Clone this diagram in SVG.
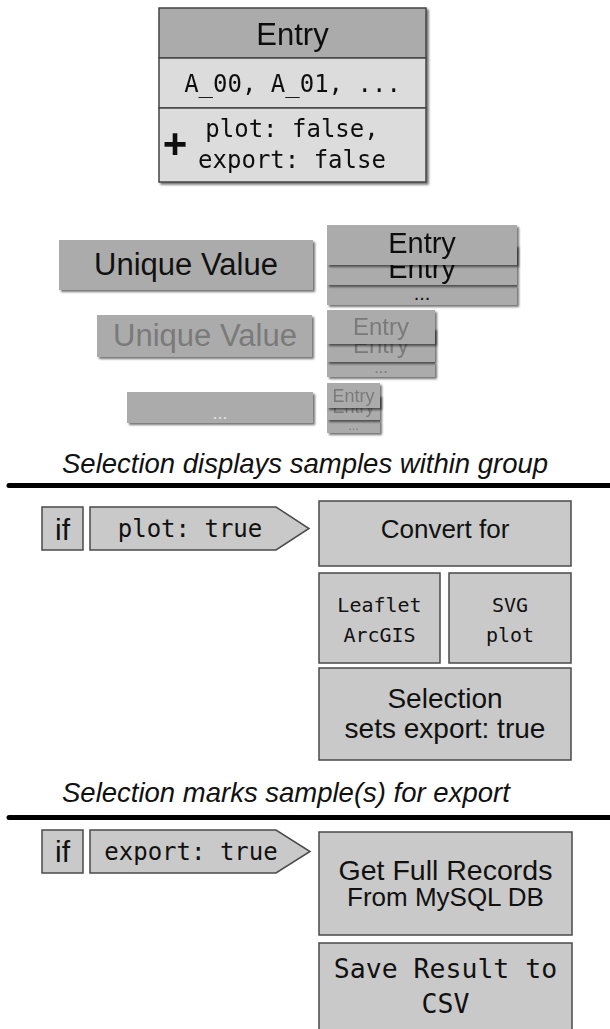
<svg xmlns="http://www.w3.org/2000/svg" width="610" height="1029" viewBox="0 0 610 1029">
<defs>
<filter id="sh" x="-10%" y="-10%" width="130%" height="140%">
<feDropShadow dx="2" dy="2" stdDeviation="0.8" flood-color="#000" flood-opacity="0.55"/>
</filter>
<style>
.sans{font-family:"Liberation Sans",Arial,sans-serif}
.mono{font-family:"DejaVu Sans Mono","Liberation Mono",monospace}
.card{fill:#ababab}
.box{fill:#c9c9c9;stroke:#4a4a4a;stroke-width:1.5}
.hdr{fill:#ababab;stroke:#444;stroke-width:1.5}
.row{fill:#dcdcdc;stroke:#444;stroke-width:1.5}
.dark{fill:#111}
.fade{fill:#7a7a7a}
.sep{stroke:#000;stroke-width:5;stroke-linecap:round}
</style>
</defs>
<rect width="610" height="1029" fill="#fff"/>

<g id="entry" filter="url(#sh)">
<rect class="hdr" x="159" y="8" width="267" height="50"/>
<rect class="row" x="159" y="58" width="267" height="50"/>
<rect class="row" x="159" y="108" width="267" height="74"/>
<text class="sans dark" x="292.5" y="45" font-size="31" text-anchor="middle">Entry</text>
<text class="mono dark" x="292.5" y="92" font-size="24" text-anchor="middle">A_00, A_01, ...</text>
<text class="sans dark" x="175" y="158" font-size="42" font-weight="bold" text-anchor="middle">+</text>
<text class="mono dark" x="292" y="137" font-size="24" text-anchor="middle">plot: false,</text>
<text class="mono dark" x="292" y="168" font-size="24" text-anchor="middle">export: false</text>
</g>

<g id="unique1">
<rect class="card" x="59" y="240" width="254" height="50" filter="url(#sh)"/>
<text class="sans dark" x="186" y="275" font-size="31" text-anchor="middle">Unique Value</text>
</g>
<g id="stack1">
<rect class="card" x="327" y="285" width="190" height="20" filter="url(#sh)"/>
<text class="sans dark" x="422" y="300" font-size="20" text-anchor="middle">...</text>
<g filter="url(#sh)">
<rect class="card" x="327" y="245" width="190" height="40"/>
<text class="sans dark" x="422" y="278" font-size="29" text-anchor="middle">Entry</text>
</g>
<g filter="url(#sh)">
<rect class="card" x="327" y="225" width="190" height="40"/>
<text class="sans dark" x="422" y="253" font-size="29" text-anchor="middle">Entry</text>
</g>
</g>

<g id="unique2">
<rect class="card" x="97" y="315" width="215" height="42" filter="url(#sh)"/>
<text class="sans fade" x="205" y="346" font-size="31" text-anchor="middle">Unique Value</text>
</g>
<g id="stack2">
<rect class="card" x="327" y="362" width="108" height="15" filter="url(#sh)"/>
<text class="sans fade" x="381" y="373" font-size="16" text-anchor="middle">...</text>
<g filter="url(#sh)">
<rect class="card" x="327" y="328" width="108" height="34"/>
<text class="sans fade" x="381" y="353" font-size="24" text-anchor="middle">Entry</text>
</g>
<g filter="url(#sh)">
<rect class="card" x="327" y="310" width="108" height="34"/>
<text class="sans fade" x="381" y="335" font-size="24" text-anchor="middle">Entry</text>
</g>
</g>

<g id="unique3">
<rect class="card" x="127" y="392" width="186" height="31" filter="url(#sh)"/>
<text class="sans" fill="#e0e0e0" x="220" y="419" font-size="18" text-anchor="middle">...</text>
</g>
<g id="stack3">
<rect class="card" x="327" y="420" width="53" height="13" filter="url(#sh)"/>
<text class="sans fade" x="353.5" y="430" font-size="12" text-anchor="middle">...</text>
<g filter="url(#sh)">
<rect class="card" x="327" y="395" width="53" height="25"/>
<text class="sans fade" x="353.5" y="413" font-size="18" text-anchor="middle">Entry</text>
</g>
<g filter="url(#sh)">
<rect class="card" x="327" y="383" width="53" height="25"/>
<text class="sans fade" x="353.5" y="402" font-size="18" text-anchor="middle">Entry</text>
</g>
</g>

<g id="caption1">
<text class="sans dark" x="62" y="473" font-size="27.5" font-style="italic">Selection displays samples within group</text>
</g>

<g id="separators">
<line class="sep" x1="9" y1="485.5" x2="612" y2="485.5"/>
<line class="sep" x1="9" y1="817.5" x2="612" y2="817.5"/>
</g>

<g id="if1">
<rect class="box" x="42" y="507" width="41" height="43"/>
<text class="sans dark" x="62.5" y="540" font-size="30" text-anchor="middle">if</text>
</g>
<g id="plot-true">
<path class="box" d="M90 507 H276 L309 528.5 L276 550 H90 Z"/>
<text class="mono dark" x="190" y="537" font-size="24" text-anchor="middle">plot: true</text>
</g>
<g id="convert">
<rect class="box" x="319" y="501" width="252" height="65"/>
<text class="sans dark" x="445" y="538" font-size="26" text-anchor="middle">Convert for</text>
</g>
<g id="leaflet">
<rect class="box" x="319" y="573" width="121" height="90"/>
<text class="mono dark" x="379.5" y="612" font-size="20" text-anchor="middle">Leaflet</text>
<text class="mono dark" x="379.5" y="642" font-size="20" text-anchor="middle">ArcGIS</text>
</g>
<g id="svgplot">
<rect class="box" x="449" y="573" width="122" height="90"/>
<text class="mono dark" x="510" y="612" font-size="20" text-anchor="middle">SVG</text>
<text class="mono dark" x="510" y="642" font-size="20" text-anchor="middle">plot</text>
</g>
<g id="selection">
<rect class="box" x="319" y="668" width="252" height="92"/>
<text class="sans dark" x="445" y="708" font-size="28" text-anchor="middle">Selection</text>
<text class="sans dark" x="445" y="738" font-size="28" text-anchor="middle">sets export: true</text>
</g>

<g id="caption2">
<text class="sans dark" x="62" y="802" font-size="27.5" font-style="italic">Selection marks sample(s) for export</text>
</g>

<g id="if2">
<rect class="box" x="42" y="830" width="41" height="43"/>
<text class="sans dark" x="62.5" y="862" font-size="30" text-anchor="middle">if</text>
</g>
<g id="export-true">
<path class="box" d="M90 830 H276 L310 851.5 L276 873 H90 Z"/>
<text class="mono dark" x="191" y="860" font-size="24" text-anchor="middle">export: true</text>
</g>
<g id="getfull">
<rect class="box" x="319" y="832" width="253" height="103"/>
<text class="sans dark" x="445.5" y="880" font-size="28.5" text-anchor="middle">Get Full Records</text>
<text class="sans dark" x="445.5" y="906" font-size="26" text-anchor="middle">From MySQL DB</text>
</g>
<g id="savecsv">
<rect class="box" x="319" y="943" width="253" height="100"/>
<text class="mono dark" x="445.5" y="978" font-size="26.5" text-anchor="middle">Save Result to</text>
<text class="mono dark" x="445.5" y="1013" font-size="26.5" text-anchor="middle">CSV</text>
</g>
</svg>
